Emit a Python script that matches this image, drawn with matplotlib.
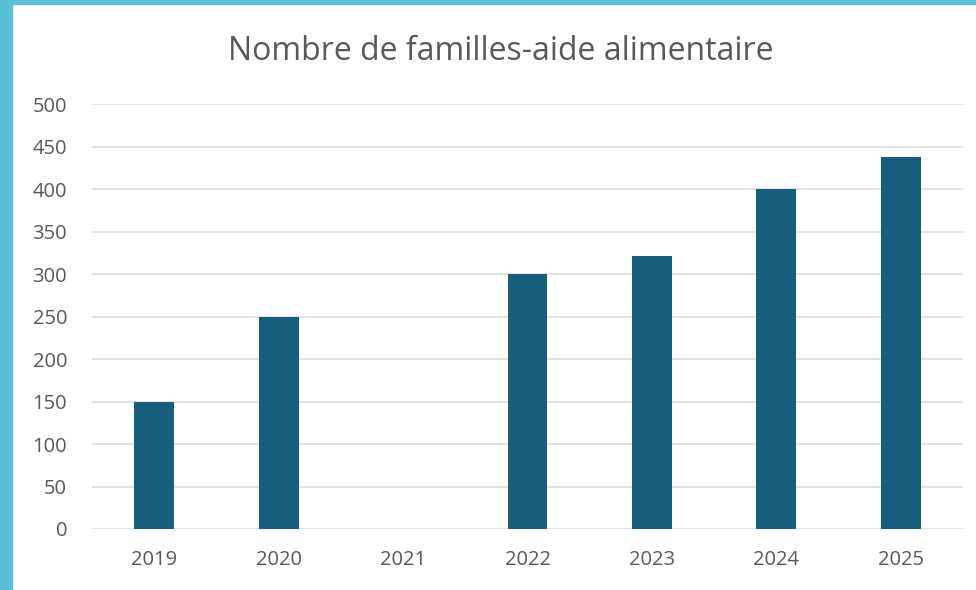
import matplotlib
matplotlib.use("Agg")
import matplotlib.pyplot as plt
from matplotlib.patches import Rectangle

# data
years = ["2019", "2020", "2021", "2022", "2023", "2024", "2025"]
familles = [150, 250, 0, 300, 322, 400, 438]
y_ticks = [0, 50, 100, 150, 200, 250, 300, 350, 400, 450, 500]

plt.rcParams['font.family'] = ['Open Sans', 'DejaVu Sans']

fig = plt.figure(figsize=(9.76, 5.9), dpi=100)
ax = fig.add_axes([0.0943, 0.1034, 0.8924, 0.7195])

x = list(range(len(years)))
ax.bar(x, familles, width=0.32, color="#175E7E", zorder=3)

ax.set_xlim(-0.5, len(years) - 0.5)
ax.set_ylim(0, 500)
ax.set_yticks(y_ticks)
ax.set_xticks(x)
ax.set_xticklabels(years)
ax.grid(axis="y", color="#DEDEDE", linewidth=1.2, zorder=0)
for s in ax.spines.values():
    s.set_visible(False)
ax.tick_params(axis="both", length=0, colors="#595959", labelsize=14.5)
ax.tick_params(axis="y", pad=18)
ax.tick_params(axis="x", pad=15)

fig.text(0.5135, 0.912, "Nombre de familles-aide alimentaire",
         ha="center", va="center", fontsize=23, color="#595959")

# teal frame on the left and top edges
fig.patches.append(Rectangle((0, 0), 12 / 976, 1, transform=fig.transFigure,
                             color="#58BFD5", zorder=-1))
fig.patches.append(Rectangle((0, 1 - 4 / 590), 1, 4 / 590, transform=fig.transFigure,
                             color="#58BFD5", zorder=-1))

fig.savefig("out.png", dpi=100)
